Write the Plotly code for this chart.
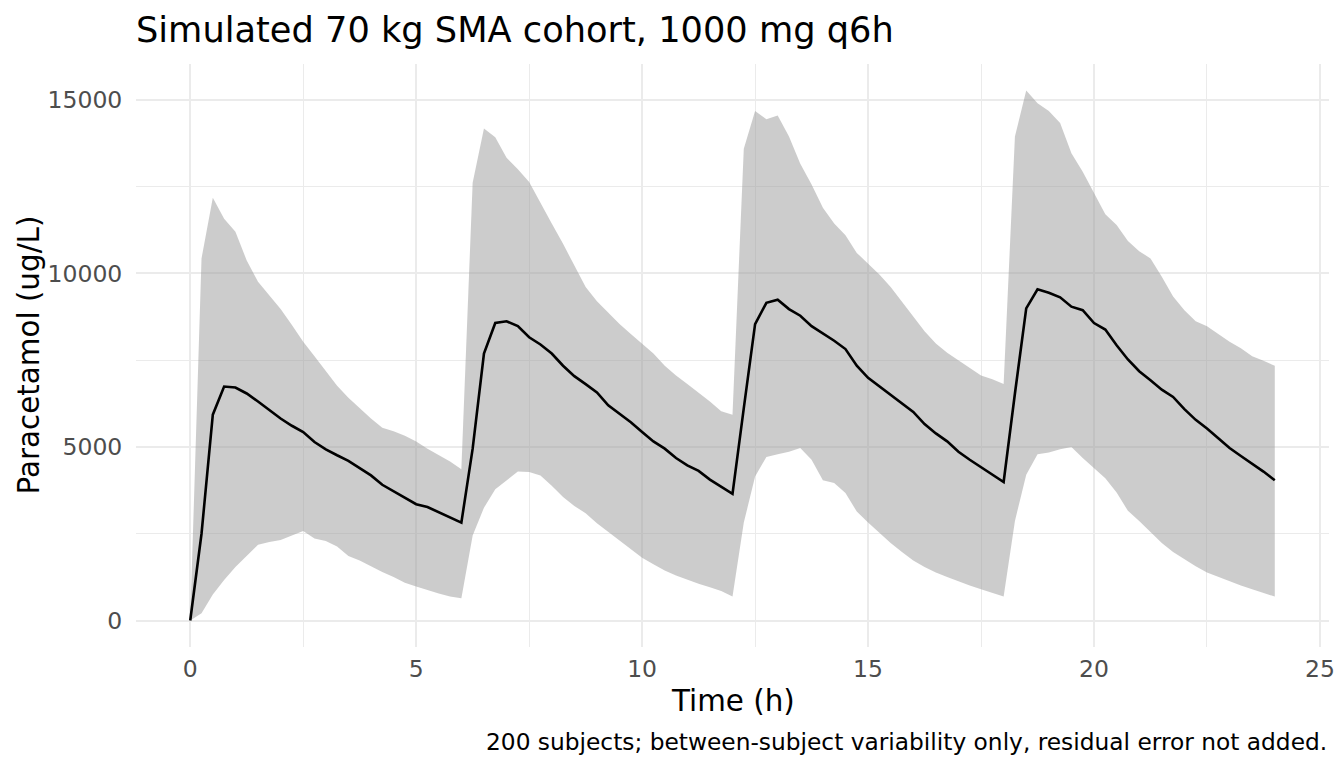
import plotly.graph_objects as go

# ------------------------
# Data
# ------------------------
TIME_H = [
    0.0, 0.25, 0.5, 0.75, 1.0, 1.25, 1.5, 1.75, 2.0, 2.25, 2.5, 2.75,
    3.0, 3.25, 3.5, 3.75, 4.0, 4.25, 4.5, 4.75, 5.0, 5.25, 5.5, 5.75,
    6.0, 6.25, 6.5, 6.75, 7.0, 7.25, 7.5, 7.75, 8.0, 8.25, 8.5, 8.75,
    9.0, 9.25, 9.5, 9.75, 10.0, 10.25, 10.5, 10.75, 11.0, 11.25, 11.5, 11.75,
    12.0, 12.25, 12.5, 12.75, 13.0, 13.25, 13.5, 13.75, 14.0, 14.25, 14.5, 14.75,
    15.0, 15.25, 15.5, 15.75, 16.0, 16.25, 16.5, 16.75, 17.0, 17.25, 17.5, 17.75,
    18.0, 18.25, 18.5, 18.75, 19.0, 19.25, 19.5, 19.75, 20.0, 20.25, 20.5, 20.75,
    21.0, 21.25, 21.5, 21.75, 22.0, 22.25, 22.5, 22.75, 23.0, 23.25, 23.5, 23.75,
    24.0,
]

# median concentration (ug/L)
MEDIAN = [
    0, 2500, 5930, 6740, 6710, 6540, 6310, 6070, 5820, 5610, 5430, 5140,
    4930, 4760, 4600, 4390, 4180, 3910, 3720, 3540, 3350, 3270, 3120, 2980,
    2820, 4950, 7690, 8570, 8620, 8480, 8160, 7950, 7690, 7340, 7040, 6810,
    6570, 6200, 5960, 5710, 5430, 5160, 4950, 4680, 4470, 4310, 4060, 3860,
    3650, 6120, 8540, 9150, 9240, 8970, 8780, 8480, 8280, 8060, 7820, 7340,
    6990, 6740, 6490, 6250, 6010, 5660, 5390, 5160, 4860, 4630, 4420, 4200,
    3990, 6540, 8990, 9540, 9440, 9310, 9040, 8940, 8570, 8380, 7930, 7520,
    7180, 6920, 6650, 6440, 6090, 5780, 5530, 5250, 4970, 4740, 4520, 4290,
    4040,
]

# lower bound of the prediction band
LOWER = [
    0, 210, 750, 1170, 1540, 1860, 2180, 2260, 2320, 2450, 2580, 2360,
    2290, 2130, 1860, 1730, 1560, 1400, 1250, 1090, 980, 870, 780, 690,
    640, 2450, 3250, 3780, 4040, 4290, 4280, 4180, 3880, 3560, 3300, 3090,
    2800, 2550, 2290, 2050, 1810, 1620, 1440, 1300, 1170, 1060, 960, 850,
    690, 2820, 4150, 4710, 4790, 4860, 4970, 4630, 4040, 3960, 3670, 3140,
    2820, 2520, 2230, 1970, 1730, 1540, 1380, 1250, 1120, 1010, 900, 800,
    690, 2870, 4200, 4790, 4840, 4930, 5000, 4680, 4380, 4100, 3690, 3160,
    2870, 2550, 2230, 1970, 1760, 1560, 1380, 1250, 1120, 1010, 900, 800,
    690,
]

# upper bound of the prediction band
UPPER = [
    0, 10430, 12180, 11570, 11200, 10370, 9760, 9360, 8970, 8510, 8030, 7610,
    7180, 6760, 6420, 6120, 5820, 5550, 5450, 5320, 5160, 4950, 4760, 4580,
    4360, 12610, 14170, 13920, 13330, 13000, 12630, 12020, 11440, 10850, 10210, 9610,
    9200, 8860, 8540, 8250, 7980, 7690, 7340, 7060, 6810, 6570, 6310, 6030,
    5930, 13590, 14680, 14440, 14550, 13940, 13160, 12560, 11890, 11440, 11100, 10590,
    10270, 9970, 9610, 9200, 8760, 8330, 7980, 7710, 7500, 7290, 7060, 6950,
    6810, 13940, 15270, 14900, 14680, 14330, 13460, 12930, 12310, 11700, 11390, 10930,
    10640, 10430, 9900, 9330, 8940, 8620, 8480, 8250, 8030, 7840, 7610, 7480,
    7340,
]

TITLE = "Simulated 70 kg SMA cohort, 1000 mg q6h"
X_TITLE = "Time (h)"
Y_TITLE = "Paracetamol (ug/L)"
CAPTION = "200 subjects; between-subject variability only, residual error not added."

FONT = "DejaVu Sans"
GRID = "#EBEBEB"

# panel box in pixels (figure is 1344 x 768)
PL, PR, PT, PB = 136, 1329, 64, 647

fig = go.Figure()

# band: lower edge first, then upper filled down to it
fig.add_trace(go.Scatter(
    x=TIME_H, y=LOWER, mode="lines",
    line=dict(width=0, color="rgba(0,0,0,0)"),
    showlegend=False, hoverinfo="skip",
))
fig.add_trace(go.Scatter(
    x=TIME_H, y=UPPER, mode="lines",
    line=dict(width=0, color="rgba(0,0,0,0)"),
    fill="tonexty", fillcolor="rgba(153,153,153,0.5)",
    showlegend=False, hoverinfo="skip",
))
fig.add_trace(go.Scatter(
    x=TIME_H, y=MEDIAN, mode="lines",
    line=dict(color="black", width=2.6),
    showlegend=False,
))


def py(pix):
    """pixel row -> paper y"""
    return (PB - pix) / (PB - PT)


fig.update_layout(
    width=1344, height=768,
    paper_bgcolor="white", plot_bgcolor="white",
    font=dict(family=FONT, color="black"),
    margin=dict(l=PL, r=1344 - PR, t=PT, b=768 - PB, autoexpand=False),
    title=dict(
        text=TITLE, font=dict(size=35.2, color="black"),
        x=0, xref="paper", xanchor="left",
        y=1 - 30 / 768, yref="container", yanchor="middle",
    ),
    xaxis=dict(
        range=[-1.2, 25.2], tick0=0, dtick=5,
        showgrid=True, gridcolor=GRID, gridwidth=2.3,
        minor=dict(dtick=2.5, tick0=0, showgrid=True, gridcolor=GRID, gridwidth=1.2),
        zeroline=False, showline=False, automargin=False,
        ticks="", ticklabelstandoff=5,
        tickfont=dict(size=23.5, color="#4D4D4D"),
    ),
    yaxis=dict(
        range=[-763, 16031], tick0=0, dtick=5000, tickformat="d",
        showgrid=True, gridcolor=GRID, gridwidth=2.3,
        minor=dict(dtick=2500, tick0=0, showgrid=True, gridcolor=GRID, gridwidth=1.2),
        zeroline=False, showline=False, automargin=False,
        ticks="outside", ticklen=8, tickcolor="rgba(0,0,0,0)",
        tickfont=dict(size=23.5, color="#4D4D4D"),
    ),
    annotations=[
        dict(
            text=X_TITLE, showarrow=False,
            xref="paper", x=0.5, xanchor="center",
            yref="paper", y=py(701), yanchor="middle",
            font=dict(size=29.4, color="black"),
        ),
        dict(
            text=Y_TITLE, showarrow=False, textangle=-90,
            xref="paper", x=(28 - PL) / (PR - PL), xanchor="center",
            yref="paper", y=0.5, yanchor="middle",
            font=dict(size=29.4, color="black"),
        ),
        dict(
            text=CAPTION, showarrow=False,
            xref="paper", x=1, xanchor="right",
            yref="paper", y=py(741), yanchor="middle",
            font=dict(size=23.3, color="black"),
        ),
    ],
)

# the page's default body margin would push the figure 8px right and down
fig.write_html(
    "out.html",
    config={"displayModeBar": False},
    post_script="document.body.style.margin='0';",
)
